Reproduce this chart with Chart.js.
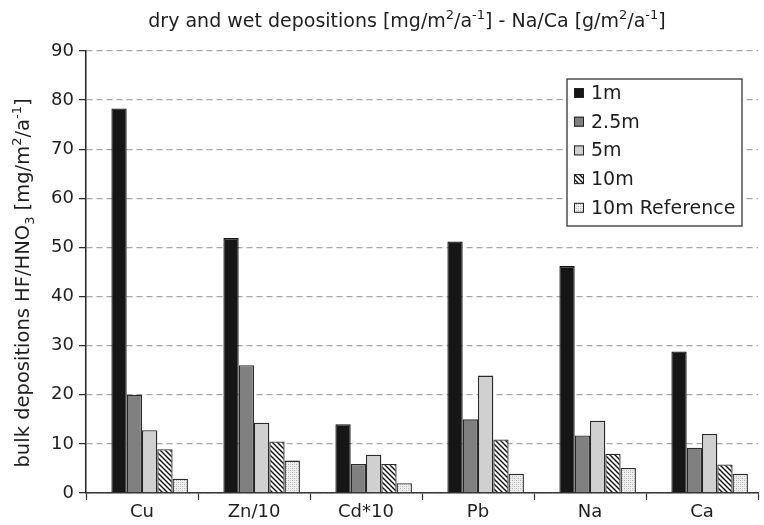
<!DOCTYPE html>
<html>
<head>
<meta charset="utf-8">
<script src="https://cdn.jsdelivr.net/npm/chart.js@4.4.1/dist/chart.umd.min.js"></script>
<style>
  html, body { margin: 0; padding: 0; background: #ffffff; }
  #wrap { width: 764px; height: 525px; position: relative; }
</style>
</head>
<body>
<div id="wrap"><canvas id="chart" width="764" height="525"></canvas></div>
<script>
// Element categories (Zn scaled /10, Cd scaled *10)
const categories = ['Cu', 'Zn/10', 'Cd*10', 'Pb', 'Na', 'Ca'];

// Sampling heights
const seriesNames = ['1m', '2.5m', '5m', '10m', '10m Reference'];

// Bulk deposition values per height
const dep1m   = [78.3, 51.9, 14.0, 51.2, 46.2, 28.8];
const dep2_5m = [20.0, 26.0, 5.9, 15.0, 11.7, 9.2];
const dep5m   = [12.8, 14.3, 7.8, 23.9, 14.7, 12.0];
const dep10m  = [8.9, 10.5, 5.9, 10.9, 8.0, 5.8];
const dep10mRef = [2.9, 6.6, 2.0, 3.9, 5.1, 3.9];

// Y axis range
const yMin = 0, yMax = 90, yStep = 10;

const FONT = '"DejaVu Sans", sans-serif';
const INK = '#1e1e1e';
const EDGE = '#2a2a2a';

// Diagonal hatch for the 10m series
function hatchPattern() {
  const c = document.createElement('canvas');
  const s = 5;
  c.width = s; c.height = s;
  const g = c.getContext('2d');
  g.fillStyle = '#ffffff';
  g.fillRect(0, 0, s, s);
  g.strokeStyle = '#111111';
  g.lineWidth = 1.4;
  g.beginPath();
  g.moveTo(-1, -1); g.lineTo(s + 1, s + 1);
  g.moveTo(-1, s - 1); g.lineTo(1, s + 1);
  g.moveTo(s - 1, -1); g.lineTo(s + 1, 1);
  g.stroke();
  return g.createPattern(c, 'repeat');
}

// Fine stipple for the reference series
function stipplePattern() {
  const c = document.createElement('canvas');
  c.width = 4; c.height = 4;
  const g = c.getContext('2d');
  g.fillStyle = '#eeeeee';
  g.fillRect(0, 0, 4, 4);
  g.fillStyle = '#b4b4b4';
  g.fillRect(0, 0, 1, 1);
  g.fillRect(2, 2, 1, 1);
  g.fillStyle = '#cfcfcf';
  g.fillRect(2, 0, 1, 1);
  g.fillRect(0, 2, 1, 1);
  return g.createPattern(c, 'repeat');
}

const fills = ['#161616', '#808080', '#cfd0cf', hatchPattern(), stipplePattern()];
const seriesValues = [dep1m, dep2_5m, dep5m, dep10m, dep10mRef];

// Empty leading slot keeps each group right of centre within its category
const datasets = [{
  label: '',
  spacer: true,
  data: categories.map(() => null),
  backgroundColor: 'rgba(0,0,0,0)',
  borderWidth: 0
}];
seriesNames.forEach((name, i) => {
  datasets.push({
    label: name,
    data: seriesValues[i],
    backgroundColor: fills[i],
    borderColor: i === 0 ? '#141414' : EDGE,
    borderWidth: 1.3,
    borderSkipped: 'bottom'
  });
});

// Draw a run of text pieces with super/subscripts
function richWidth(ctx, parts, size) {
  let w = 0;
  parts.forEach(p => {
    ctx.font = (p[1] ? Math.round(size * 0.66) : size) + 'px ' + FONT;
    w += ctx.measureText(p[0]).width;
  });
  return w;
}
function drawRich(ctx, parts, x, y, size) {
  let cx = x;
  parts.forEach(p => {
    const sz = p[1] ? Math.round(size * 0.66) : size;
    ctx.font = sz + 'px ' + FONT;
    const dy = p[1] === 1 ? -size * 0.42 : (p[1] === -1 ? size * 0.25 : 0);
    ctx.fillText(p[0], cx, y + dy);
    cx += ctx.measureText(p[0]).width;
  });
}

const titleParts = [
  ['dry and wet depositions [mg/m', 0], ['2', 1], ['/a', 0], ['-1', 1],
  ['] - Na/Ca [g/m', 0], ['2', 1], ['/a', 0], ['-1', 1], [']', 0]
];
const yTitleParts = [
  ['bulk depositions HF/HNO', 0], ['3', -1], [' [mg/m', 0], ['2', 1],
  ['/a', 0], ['-1', 1], [']', 0]
];

const textPlugin = {
  id: 'textPlugin',
  afterDraw(chart) {
    const ctx = chart.ctx;
    const area = chart.chartArea;
    ctx.save();
    ctx.fillStyle = INK;
    ctx.textBaseline = 'alphabetic';
    ctx.textAlign = 'left';

    // Title
    const tSize = 19;
    const tw = richWidth(ctx, titleParts, tSize);
    drawRich(ctx, titleParts, 407 - tw / 2, 27, tSize);

    // Vertical axis title
    const ySize = 19.5;
    const yw = richWidth(ctx, yTitleParts, ySize);
    ctx.save();
    ctx.translate(29, 283);
    ctx.rotate(-Math.PI / 2);
    drawRich(ctx, yTitleParts, -yw / 2, 0, ySize);
    ctx.restore();

    // Legend box
    const lx = 567, ly = 79, lw = 175, lh = 147;
    ctx.fillStyle = '#ffffff';
    ctx.fillRect(lx, ly, lw, lh);
    ctx.strokeStyle = '#333333';
    ctx.lineWidth = 1.3;
    ctx.strokeRect(lx, ly, lw, lh);
    ctx.font = '19px ' + FONT;
    ctx.textBaseline = 'middle';
    const items = chart.data.datasets.filter(d => !d.spacer);
    items.forEach((d, i) => {
      const cy = 93 + i * 28.7;
      ctx.fillStyle = d.backgroundColor;
      ctx.fillRect(574, cy - 5, 10, 10);
      ctx.strokeStyle = '#222222';
      ctx.lineWidth = 1;
      ctx.strokeRect(574.5, cy - 4.5, 9, 9);
      ctx.fillStyle = INK;
      ctx.fillText(d.label, 591, cy + 1);
    });
    ctx.restore();
  }
};

new Chart(document.getElementById('chart'), {
  type: 'bar',
  data: { labels: categories, datasets: datasets },
  options: {
    responsive: false,
    animation: false,
    devicePixelRatio: 1,
    layout: { padding: { top: 51, right: 6, bottom: 0, left: 0 } },
    datasets: { bar: { categoryPercentage: 0.82, barPercentage: 1.0 } },
    plugins: {
      legend: { display: false },
      title: { display: false },
      tooltip: { enabled: false }
    },
    scales: {
      x: {
        afterFit(scale) { scale.height = 32; },
        grid: {
          display: true,
          drawOnChartArea: false,
          drawTicks: true,
          offset: true,
          tickLength: 7,
          tickColor: '#333333',
          tickWidth: 1.2
        },
        border: { display: true, color: '#333333', width: 1.5 },
        ticks: {
          color: INK,
          font: { family: FONT, size: 18 },
          padding: 2,
          maxRotation: 0
        }
      },
      y: {
        min: yMin,
        max: yMax,
        afterFit(scale) { scale.width = 86; },
        grid: {
          color: '#a6a6a6',
          lineWidth: 1.3,
          drawTicks: true,
          tickLength: 7,
          tickColor: '#222222',
          tickWidth: 1.2,
          tickBorderDash: []
        },
        border: { display: true, color: '#222222', width: 1.5, dash: [6, 4] },
        ticks: {
          stepSize: yStep,
          color: INK,
          font: { family: FONT, size: 18 },
          padding: 5
        }
      }
    }
  },
  plugins: [textPlugin]
});
</script>
</body>
</html>
